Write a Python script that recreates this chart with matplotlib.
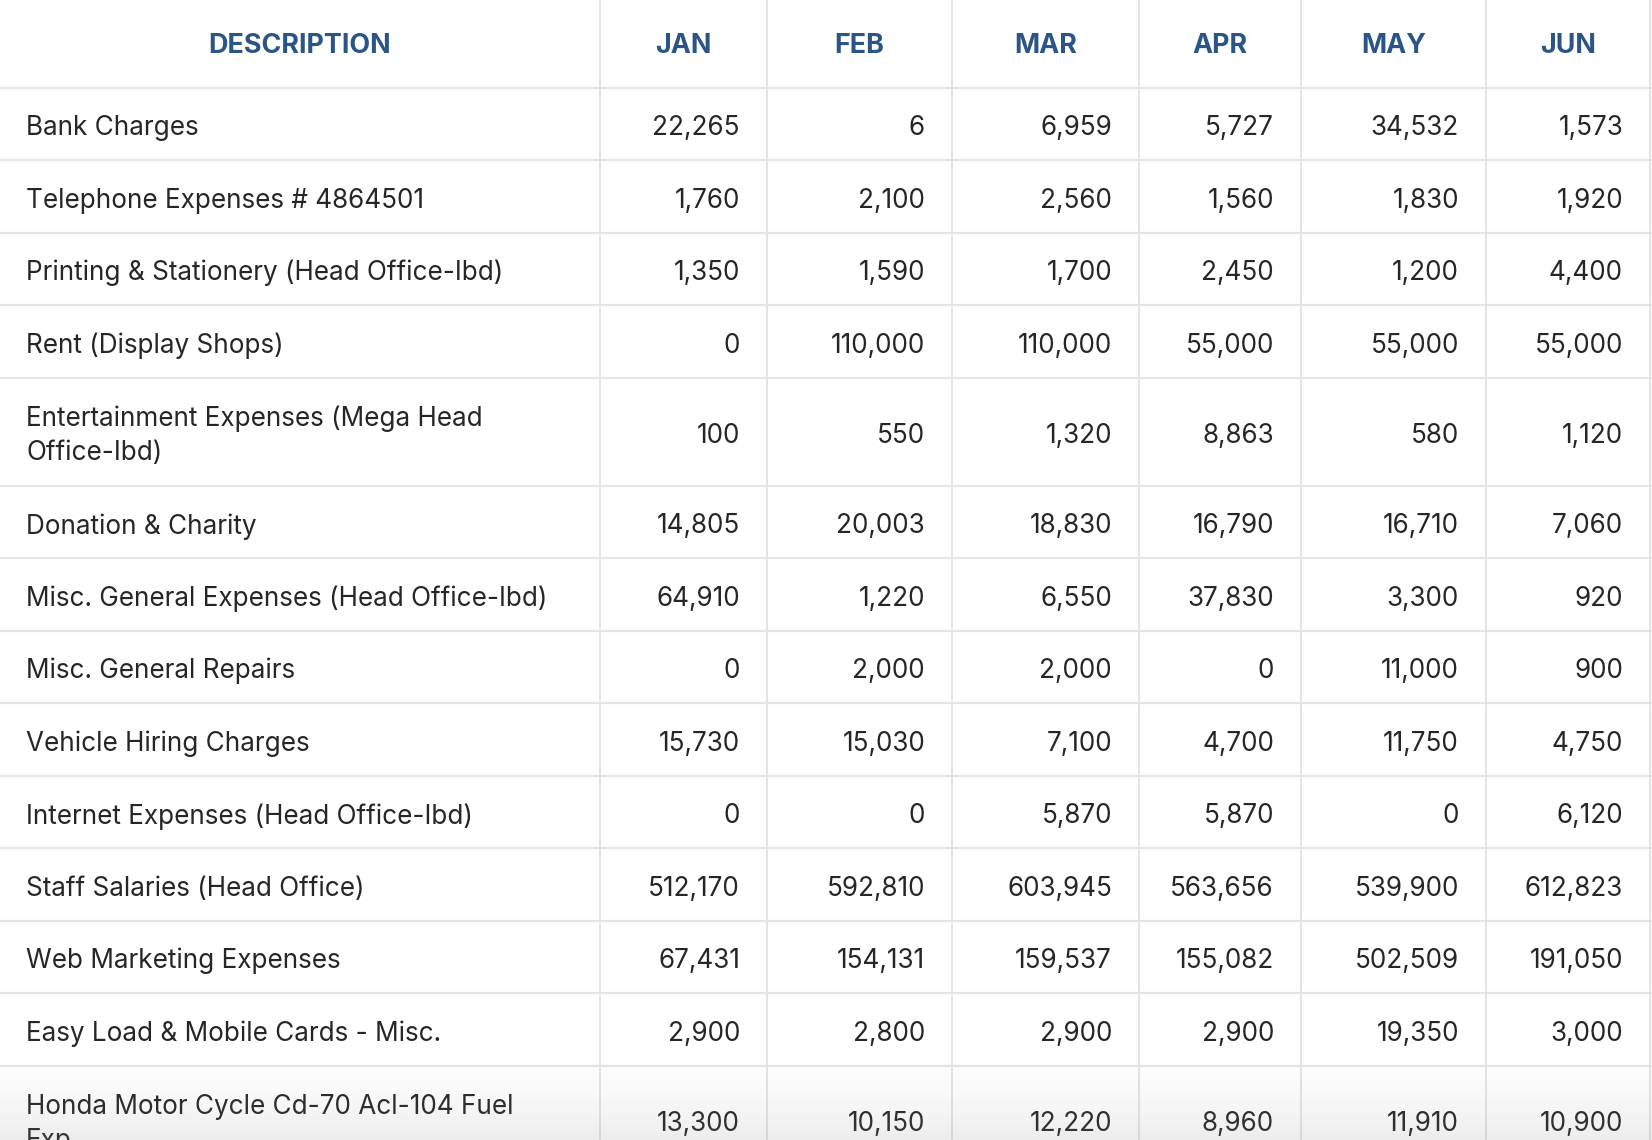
import numpy as np
import matplotlib.pyplot as plt

# table content
months = ['JAN', 'FEB', 'MAR', 'APR', 'MAY', 'JUN']
descriptions = [
    'Bank Charges',
    'Telephone Expenses # 4864501',
    'Printing & Stationery (Head Office-Ibd)',
    'Rent (Display Shops)',
    'Entertainment Expenses (Mega Head\nOffice-Ibd)',
    'Donation & Charity',
    'Misc. General Expenses (Head Office-Ibd)',
    'Misc. General Repairs',
    'Vehicle Hiring Charges',
    'Internet Expenses (Head Office-Ibd)',
    'Staff Salaries (Head Office)',
    'Web Marketing Expenses',
    'Easy Load & Mobile Cards - Misc.',
    'Honda Motor Cycle Cd-70 Acl-104 Fuel\nExp',
]
jan = [22265, 1760, 1350, 0, 100, 14805, 64910, 0, 15730, 0, 512170, 67431, 2900, 13300]
feb = [6, 2100, 1590, 110000, 550, 20003, 1220, 2000, 15030, 0, 592810, 154131, 2800, 10150]
mar = [6959, 2560, 1700, 110000, 1320, 18830, 6550, 2000, 7100, 5870, 603945, 159537, 2900, 12220]
apr = [5727, 1560, 2450, 55000, 8863, 16790, 37830, 0, 4700, 5870, 563656, 155082, 2900, 8960]
may = [34532, 1830, 1200, 55000, 580, 16710, 3300, 11000, 11750, 0, 539900, 502509, 19350, 11910]
jun = [1573, 1920, 4400, 55000, 1120, 7060, 920, 900, 4750, 6120, 612823, 191050, 3000, 10900]
values = [jan, feb, mar, apr, may, jun]

# layout (pixels)
W, H = 1652, 1140
col_edges = [0, 600, 767, 952, 1139, 1301, 1486, 1650]
header_h = 87.5
row_h = 72.5
row_h2 = 108
pad = 27
fs = 18.8
fs_head = 19.4
line_gap = 35
dy = 4.5   # nudge text down a bit

text_col = '#262626'
head_col = '#2b5487'
grid_col = '#e4e4e4'

plt.rcParams['font.family'] = ['Inter', 'DejaVu Sans']

fig = plt.figure(figsize=(W / 100, H / 100), dpi=100)
ax = fig.add_axes([0, 0, 1, 1])
ax.set_xlim(0, W)
ax.set_ylim(H, 0)
ax.axis('off')

# header
ax.text(col_edges[1] / 2, header_h / 2 + 2, 'DESCRIPTION', ha='center', va='center',
        fontsize=fs_head, fontweight='bold', color=head_col)
for j, m in enumerate(months):
    cx = (col_edges[j + 1] + col_edges[j + 2]) / 2
    ax.text(cx, header_h / 2 + 2, m, ha='center', va='center',
            fontsize=fs_head, fontweight='bold', color=head_col)

# rows
y = header_h
row_tops = []
for i, d in enumerate(descriptions):
    lines = d.split('\n')
    h = row_h2 if len(lines) > 1 else row_h
    row_tops.append(y)
    cy = y + h / 2 + dy
    for k, ln in enumerate(lines):
        off = (k - (len(lines) - 1) / 2) * line_gap
        ax.text(26, cy + off, ln, ha='left', va='center', fontsize=fs, color=text_col)
    for j in range(len(months)):
        ax.text(col_edges[j + 2] - pad, cy, f'{values[j][i]:,}', ha='right', va='center',
                fontsize=fs, color=text_col)
    y += h

# grid lines
for t in row_tops:
    ax.plot([0, W], [t, t], color=grid_col, lw=1.6, solid_capstyle='butt', zorder=1)
for x in col_edges[1:]:
    ax.plot([x, x], [0, H], color=grid_col, lw=1.4, solid_capstyle='butt', zorder=1)

# fade at the bottom of the last row
grad = np.linspace(0, 1, 100).reshape(-1, 1) ** 1.5
fade = np.zeros((100, 1, 4))
fade[..., :3] = 0.55
fade[..., 3] = 0.02 + 0.14 * grad
ax.imshow(fade, extent=[0, W, H, row_tops[-1]], aspect='auto', zorder=3, interpolation='bilinear')
ax.set_xlim(0, W)
ax.set_ylim(H, 0)

fig.savefig('out.png', dpi=100)
